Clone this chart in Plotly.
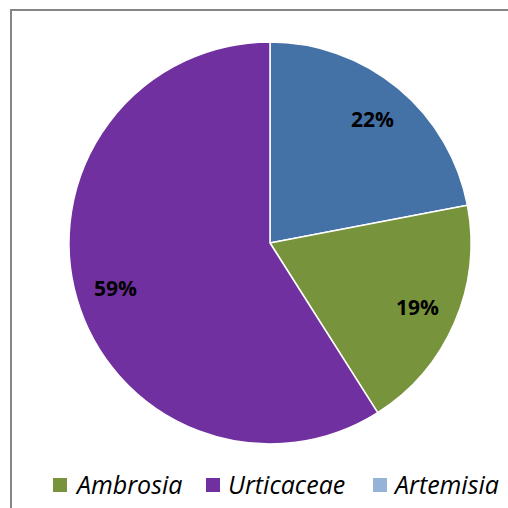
import plotly.graph_objects as go

# Data (slice order clockwise from 12 o'clock)
labels = ["Artemisia", "Ambrosia", "Urticaceae"]
values = [22, 19, 59]
slice_colors = ["#4472A7", "#77933C", "#7030A0"]

# Legend entries (order and marker colours as shown in the legend)
legend_labels = ["Ambrosia", "Urticaceae", "Artemisia"]
legend_colors = ["#77933C", "#7030A0", "#95B3D7"]

W = H = 508
CX, CY, R = 270, 243, 201
dom = dict(x=[(CX - R) / W, (CX + R) / W], y=[1 - (CY + R) / H, 1 - (CY - R) / H])

fig = go.Figure()

# main pie
fig.add_trace(go.Pie(
    labels=labels,
    values=values,
    sort=False,
    direction="clockwise",
    rotation=0,
    marker=dict(colors=slice_colors, line=dict(color="white", width=1.5)),
    textinfo="none",
    showlegend=False,
    hoverinfo="label+percent",
    domain=dom,
))

# transparent ring overlay carrying the percentage labels near the outer edge
fig.add_trace(go.Pie(
    labels=labels,
    values=values,
    sort=False,
    direction="clockwise",
    rotation=0,
    hole=0.6,
    marker=dict(colors=["rgba(0,0,0,0)"] * len(values), line=dict(width=0)),
    texttemplate="%{percent:.0%}",
    textposition="inside",
    insidetextorientation="horizontal",
    textfont=dict(family="Open Sans", size=21, color="black", weight="bold"),
    showlegend=False,
    hoverinfo="skip",
    domain=dom,
))

# chart-area border (left and top edges visible)
shapes = [
    dict(type="line", xref="paper", yref="paper",
         x0=11 / W, x1=11 / W, y0=0, y1=1 - 9 / H,
         line=dict(color="#868686", width=2)),
    dict(type="line", xref="paper", yref="paper",
         x0=10 / W, x1=1, y0=1 - 10 / H, y1=1 - 10 / H,
         line=dict(color="#868686", width=2)),
]

# manual legend
sq_x = [53, 206, 373]
txt_x = [73, 226, 391]
annotations = []
for name, col, sx, tx in zip(legend_labels, legend_colors, sq_x, txt_x):
    shapes.append(dict(
        type="rect", xref="paper", yref="paper",
        x0=sx / W, x1=(sx + 14) / W, y0=1 - 492 / H, y1=1 - 478 / H,
        fillcolor=col, line=dict(width=0),
    ))
    annotations.append(dict(
        text=name, xref="paper", yref="paper",
        x=tx / W, y=1 - 484 / H, xanchor="left", yanchor="middle",
        showarrow=False,
        font=dict(family="Open Sans", size=25, color="black", style="italic"),
    ))

fig.update_layout(
    width=W, height=H,
    margin=dict(l=0, r=0, t=0, b=0),
    paper_bgcolor="white",
    plot_bgcolor="white",
    showlegend=False,
    shapes=shapes,
    annotations=annotations,
)

fig.write_html(
    "out.html",
    config={"displayModeBar": False},
    post_script="document.body.style.margin='0';document.body.style.overflow='hidden';",
)
